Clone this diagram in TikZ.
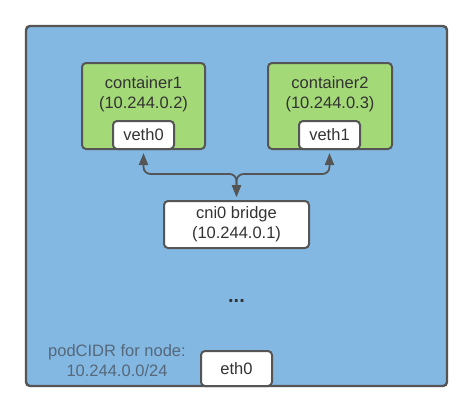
\documentclass[tikz,border=0pt]{standalone}
\usepackage{fontspec}
\setmainfont{Liberation Sans}
\usetikzlibrary{arrows.meta}
\definecolor{bgblue}{HTML}{83B8E3}
\definecolor{cgreen}{HTML}{A3D977}
\definecolor{bord}{HTML}{555555}
\definecolor{txt}{HTML}{333333}
\definecolor{cidr}{HTML}{56687A}
\begin{document}
\begin{tikzpicture}[x=1pt,y=-1pt,
  box/.style={draw=bord,line width=2pt,rounded corners=4pt,inner sep=0pt},
  lbl/.style={text=txt,font=\fontsize{16.5}{20}\selectfont,align=center,inner sep=0pt},
  arr/.style={draw=bord,line width=1.8pt,rounded corners=7pt,{Triangle[length=12pt,width=9pt]}-{Triangle[length=12pt,width=9pt]},shorten <=3pt,shorten >=3pt}]
\useasboundingbox[fill=white] (0,0) rectangle (474,408);
\node[box,fill=bgblue,line width=2.4pt,minimum width=421pt,minimum height=360pt] (outer) at (236.5,206) {};
\node[box,fill=cgreen,minimum width=123pt,minimum height=86pt] (c1) at (143.5,106) {};
\node[box,fill=cgreen,minimum width=124pt,minimum height=86pt] (c2) at (330,106) {};
\node[lbl] (t1) at (143.5,94) {container1\\(10.244.0.2)};
\node[lbl] (t2) at (330,94) {container2\\(10.244.0.3)};
\node[box,fill=white,minimum width=61pt,minimum height=28pt,lbl,draw=bord] (v0) at (143.5,135) {veth0};
\node[box,fill=white,minimum width=61pt,minimum height=28pt,lbl,draw=bord] (v1) at (329.5,135) {veth1};
\node[box,fill=white,minimum width=145pt,minimum height=47pt,lbl,draw=bord] (cni) at (236.5,224.5) {cni0 bridge\\(10.244.0.1)};
\node[lbl,font=\bfseries\fontsize{20}{22}\selectfont] (dots) at (236.5,301) {...};
\node[lbl,text=cidr] (cidr) at (117,360.5) {podCIDR for node:\\10.244.0.0/24};
\node[box,fill=white,minimum width=71pt,minimum height=35pt,lbl,draw=bord] (eth) at (236.5,368.5) {eth0};
\coordinate (j) at (236.5,174);
\draw[arr] (v0.south) -- (v0.south |- j) -- (j) -- (cni.north);
\draw[arr] (v1.south) -- (v1.south |- j) -- (j) -- (cni.north);
\end{tikzpicture}
\end{document}
